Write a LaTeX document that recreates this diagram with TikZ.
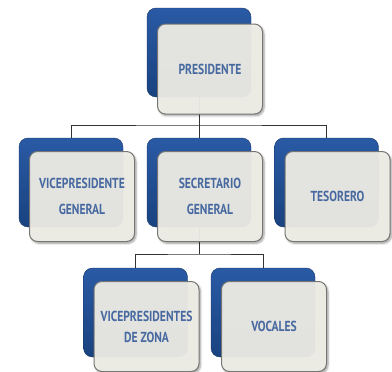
\documentclass[tikz,border=0pt]{standalone}
\usepackage{fontspec}
\setmainfont{PT Sans}[FakeStretch=0.8]
\usetikzlibrary{backgrounds,shadows.blur}
\definecolor{bluetop}{HTML}{2A5AA5}
\definecolor{bluebot}{HTML}{19427F}
\definecolor{frontfill}{HTML}{F0EFE8}
\definecolor{frontedge}{HTML}{767674}
\definecolor{txtblue}{HTML}{4769A0}
\definecolor{linecol}{HTML}{333333}
\tikzset{
  bluebox/.style={rounded corners=9pt, top color=bluetop, bottom color=bluebot,
    draw=bluebot!80!black, line width=0.4pt, minimum width=104pt, minimum height=89pt, inner sep=0pt},
  frontbox/.style={rounded corners=8pt, fill=frontfill, fill opacity=0.94, text opacity=1,
    draw=frontedge, line width=1pt, minimum width=105pt, minimum height=90pt, inner sep=0pt,
    blur shadow={shadow xshift=1.5pt, shadow yshift=-1.8pt, shadow blur steps=6, shadow opacity=40},
    text=txtblue, align=center, font=\bfseries\fontsize{14.5}{26}\selectfont},
  conn/.style={draw=linecol, line width=0.9pt}
}
\begin{document}
\begin{tikzpicture}[x=1pt,y=-1pt]
\useasboundingbox (0,0) rectangle (392,372);
% President
\node[bluebox] (pB) at (199,52.5) {};
\node[frontbox] (pF) at (210,69) {PRESIDENTE};
% Row 2
\node[bluebox] (vgB) at (71,182.5) {};
\node[frontbox] (vgF) at (82,196.5) {VICEPRESIDENTE\\GENERAL};
\node[bluebox] (sgB) at (199,182.5) {};
\node[frontbox] (sgF) at (210,196.5) {SECRETARIO\\GENERAL};
\node[bluebox] (tB) at (326.5,182.5) {};
\node[frontbox] (tF) at (337.5,196.5) {TESORERO};
% Row 3
\node[bluebox] (vzB) at (135.5,312.5) {};
\node[frontbox, font=\bfseries\fontsize{14.5}{21}\selectfont] (vzF) at (146.5,326.5) {VICEPRESIDENTES\\DE ZONA};
\node[bluebox] (voB) at (263,312.5) {};
\node[frontbox] (voF) at (274,326.5) {VOCALES};
\coordinate (bus1) at (199,125);
\coordinate (bus2) at (199,254);
\begin{scope}[on background layer]
\draw[conn] (pB.center) -- (sgB.center);
\draw[conn] (vgB.center) |- (bus1) -| (tB.center);
\draw[conn] (sgB.center) -- (bus2);
\draw[conn] (vzB.center) |- (bus2) -| (voB.center);
\end{scope}
\end{tikzpicture}
\end{document}
